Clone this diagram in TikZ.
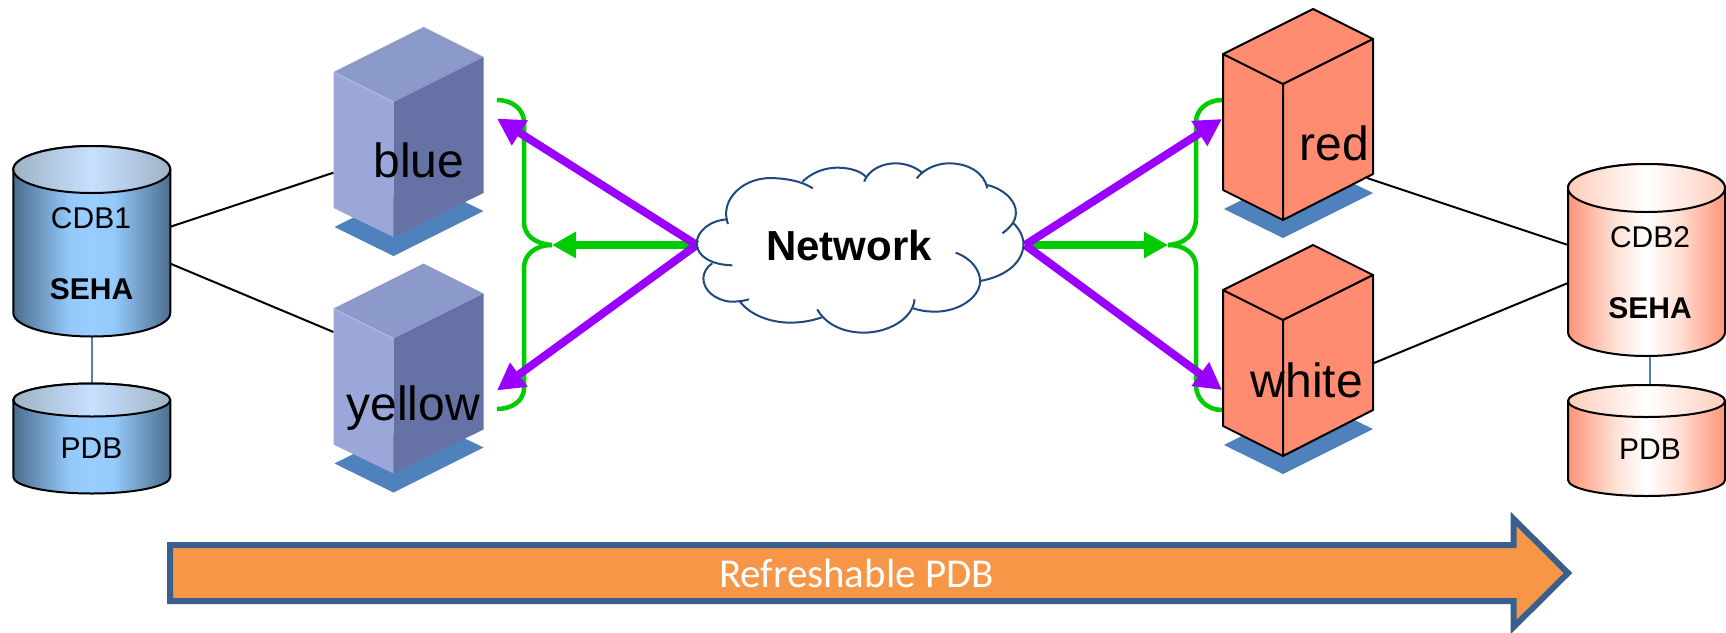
\documentclass[tikz,border=0pt]{standalone}
\usepackage{fontspec}
\setmainfont{Liberation Sans}
\newfontfamily\calib{Carlito}
\usetikzlibrary{arrows.meta}
\definecolor{boxL}{HTML}{9BA7D9}
\definecolor{boxT}{HTML}{8C99CB}
\definecolor{boxR}{HTML}{6672A6}
\definecolor{boxEdge}{HTML}{C5CCE8}
\definecolor{shadowB}{HTML}{4F81BD}
\definecolor{salmon}{HTML}{FF8C70}
\definecolor{gr}{HTML}{00CC00}
\definecolor{pu}{HTML}{9900FF}
\definecolor{cloudC}{HTML}{1F497D}
\definecolor{orangeF}{HTML}{F79646}
\definecolor{orangeS}{HTML}{3A5F8E}
\pgfdeclarehorizontalshading{bluebody}{100bp}{rgb(0bp)=(.30,.43,.56);rgb(25bp)=(.30,.43,.56);rgb(43bp)=(.58,.79,.98);rgb(50bp)=(.6,.8,1);rgb(57bp)=(.58,.79,.98);rgb(75bp)=(.30,.43,.56);rgb(100bp)=(.30,.43,.56)}
\pgfdeclarehorizontalshading{bluetop}{100bp}{rgb(0bp)=(.62,.70,.77);rgb(25bp)=(.62,.70,.77);rgb(50bp)=(.78,.88,1);rgb(75bp)=(.62,.70,.77);rgb(100bp)=(.62,.70,.77)}
\pgfdeclarehorizontalshading{redbody}{100bp}{rgb(0bp)=(1,.58,.47);rgb(25bp)=(1,.58,.47);rgb(40bp)=(1,.88,.84);rgb(50bp)=(1,1,1);rgb(60bp)=(1,.88,.84);rgb(75bp)=(1,.58,.47);rgb(100bp)=(1,.58,.47)}
\pgfdeclarehorizontalshading{redtop}{100bp}{rgb(0bp)=(1,.80,.73);rgb(25bp)=(1,.80,.73);rgb(50bp)=(1,1,1);rgb(75bp)=(1,.80,.73);rgb(100bp)=(1,.80,.73)}
\tikzset{
  lab/.style={anchor=base,inner sep=0pt,font=\fontsize{48}{48}\selectfont},
  dblab/.style={anchor=base,inner sep=0pt,font=\fontsize{30}{30}\selectfont},
  dbbold/.style={anchor=base,inner sep=0pt,font=\fontsize{30}{30}\selectfont\bfseries},
  blackline/.style={draw=black,line width=2pt},
  linkline/.style={draw=shadowB,line width=2pt},
  purplearrow/.style={draw=pu,line width=8pt,-{Triangle[length=27pt,width=28pt]}},
  greenarrow/.style={draw=gr,line width=8pt,-{Triangle[length=24pt,width=25pt]}},
  bracket/.style={draw=gr,line width=4.5pt},
  cloudline/.style={draw=cloudC,line width=2pt},
  dbline/.style={draw=black,line width=2pt,line join=round},
  srv/.style={draw=black,line width=2pt,line join=round,fill=salmon},
}
% x, ytop centre, ry, y side bottom, body shading, top shading
\newcommand\dbcyl[6]{%
  \path[shading=#5,dbline] (#1,#2) -- (#1,#4) arc[start angle=180,end angle=0,x radius=78.5,y radius=#3] -- ({#1+157},#2) arc[start angle=0,end angle=-180,x radius=78.5,y radius=#3] -- cycle;
  \path[shading=#6,dbline] (#1,#2) arc[start angle=180,end angle=0,x radius=78.5,y radius=#3] arc[start angle=0,end angle=-180,x radius=78.5,y radius=#3] -- cycle;
}
\newcommand\shadowpoly[2]{%
  \fill[shadowB] ({#1+1},{#2+200}) -- ({#1+60},{#2+229}) -- ({#1+150},{#2+184}) -- ({#1+90},{#2+155}) -- cycle;
}
\newcommand\bluesrv[2]{%
  \shadowpoly{#1}{#2}
  \fill[boxL] (#1,{#2+45}) -- ({#1+60},{#2+75}) -- ({#1+60},{#2+210}) -- (#1,{#2+181}) -- cycle;
  \fill[boxT] (#1,{#2+45}) -- ({#1+90},#2) -- ({#1+150},{#2+30}) -- ({#1+60},{#2+75}) -- cycle;
  \fill[boxR] ({#1+60},{#2+75}) -- ({#1+150},{#2+30}) -- ({#1+150},{#2+166}) -- ({#1+60},{#2+210}) -- cycle;
  \draw[boxEdge,line width=.6pt] (#1,{#2+45}) -- ({#1+60},{#2+75});
}
\newcommand\redsrv[2]{%
  \shadowpoly{#1}{#2}
  \path[srv] (#1,{#2+45}) -- ({#1+60},{#2+75}) -- ({#1+60},{#2+211}) -- (#1,{#2+181}) -- cycle;
  \path[srv] (#1,{#2+45}) -- ({#1+90},#2) -- ({#1+150},{#2+30}) -- ({#1+60},{#2+75}) -- cycle;
  \path[srv] ({#1+60},{#2+75}) -- ({#1+150},{#2+30}) -- ({#1+150},{#2+165}) -- ({#1+60},{#2+211}) -- cycle;
}
\begin{document}
\begin{tikzpicture}[x=1pt,y=-1pt]
\useasboundingbox (0,0) rectangle (1726,632);
\fill[white] (0,0) rectangle (1726,632);
\clip (0,0) rectangle (1726,632);

% named ports
\coordinate (cdbAa) at (170.5,226.7);
\coordinate (cdbAb) at (170.5,263.7);
\coordinate (blueP) at (333.5,172.7);
\coordinate (yellowP) at (333.5,332);
\coordinate (cdbAd) at (91.7,336);
\coordinate (pdbAu) at (91.7,383);
\coordinate (redP) at (1367,178);
\coordinate (whiteP) at (1374,363);
\coordinate (cdbBa) at (1568,245);
\coordinate (cdbBb) at (1568,283);
\coordinate (cdbBd) at (1650,354);
\coordinate (pdbBu) at (1650,386);
\coordinate (netL) at (696.7,245);
\coordinate (netR) at (1025,245);
\coordinate (blueT) at (497,118.5);
\coordinate (yellowT) at (497,390.5);
\coordinate (hubL) at (552,245);
\coordinate (redT) at (1222,119);
\coordinate (whiteT) at (1222,390);
\coordinate (hubR) at (1168,245);
\coordinate (brLa) at (497,100);
\coordinate (brLb) at (497,409);
\coordinate (brRa) at (1222,100);
\coordinate (brRb) at (1222,410);
\coordinate (brLm) at (552,245);

% black links
\draw[blackline] (cdbAa) -- (blueP);
\draw[blackline] (cdbAb) -- (yellowP);
\draw[blackline] (redP) -- (cdbBa);
\draw[blackline] (whiteP) -- (cdbBb);
\draw[linkline] (cdbAd) -- (pdbAu);
\draw[linkline] (cdbBd) -- (pdbBu);

% databases
\dbcyl{13.3}{169.5}{23.5}{313}{bluebody}{bluetop}
\dbcyl{13.3}{400}{16.5}{477}{bluebody}{bluetop}
\dbcyl{1568}{188}{24}{332}{redbody}{redtop}
\dbcyl{1568}{401}{16}{480}{redbody}{redtop}
\node[dblab] (cdbA) at (91,228) {CDB1};
\node[dbbold] (sehaA) at (91.5,299) {SEHA};
\node[dblab] (pdbA) at (91.5,458) {PDB};
\node[dblab] (cdbB) at (1650,247) {CDB2};
\node[dbbold] (sehaB) at (1650,318) {SEHA};
\node[dblab] (pdbB) at (1650,459) {PDB};

% servers
\bluesrv{333.5}{27}
\bluesrv{333.5}{263.5}
\redsrv{1223}{9}
\redsrv{1223}{245}
\node[lab] (blue) at (419,177) {blue};
\node[lab] (yellow) at (413,420) {yellow};
\node[lab] (red) at (1334,160) {red};
\node[lab] (white) at (1307,397) {white};

% green brackets
\draw[bracket] (brLa) .. controls (513,100) and (524,110) .. (524,122) -- (524,222) .. controls (524,236) and (536,244) .. (brLm);
\draw[bracket] (brLm) .. controls (536,245) and (524,254) .. (524,268) -- (524,388) .. controls (524,400) and (513,409) .. (brLb);
\draw[bracket] (brRa) .. controls (1207,100) and (1196,110) .. (1196,122) -- (1196,218) .. controls (1196,234) and (1185,244) .. (hubR);
\draw[bracket] (hubR) .. controls (1185,245) and (1196,254) .. (1196,267) -- (1196,385) .. controls (1196,399) and (1207,410) .. (brRb);

% arrows
\draw[greenarrow] (netL) -- (hubL);
\draw[greenarrow] (netR) -- (hubR);
\draw[purplearrow] (netL) -- (blueT);
\draw[purplearrow] (netL) -- (yellowT);
\draw[purplearrow] (netR) -- (redT);
\draw[purplearrow] (netR) -- (whiteT);

% cloud
\begin{scope}[shift={(440,60)},x=0.4464pt,y=-0.3333pt]
\draw[cloudline] (645,492) .. controls (625,420) and (680,345) .. (755,355) .. controls (790,358) and (815,368) .. (835,385);
\draw[cloudline] (812,365) .. controls (835,335) and (865,323) .. (890,323) .. controls (920,323) and (945,335) .. (955,352);
\draw[cloudline] (950,365) .. controls (960,330) and (990,310) .. (1020,310) .. controls (1045,310) and (1065,322) .. (1080,338);
\draw[cloudline] (1068,355) .. controls (1085,325) and (1115,310) .. (1140,310) .. controls (1185,310) and (1220,340) .. (1226,385);
\draw[cloudline] (1226,375) .. controls (1265,388) and (1292,425) .. (1290,460) .. controls (1290,485) and (1275,505) .. (1260,520);
\draw[cloudline] (1285,490) .. controls (1300,510) and (1308,535) .. (1307,555) .. controls (1305,610) and (1265,650) .. (1210,663);
\draw[cloudline] (1155,578) .. controls (1190,595) and (1210,630) .. (1210,665) .. controls (1208,715) and (1160,755) .. (1110,755) .. controls (1090,755) and (1075,752) .. (1060,745);
\draw[cloudline] (1063,718) .. controls (1060,775) and (1005,818) .. (950,818) .. controls (905,818) and (865,795) .. (845,748);
\draw[cloudline] (855,772) .. controls (835,782) and (810,788) .. (785,788) .. controls (740,788) and (695,765) .. (672,725);
\draw[cloudline] (692,718) .. controls (675,725) and (660,725) .. (650,725) .. controls (615,720) and (590,690) .. (590,655) .. controls (590,640) and (597,620) .. (610,610);
\draw[cloudline] (655,616) .. controls (610,615) and (575,590) .. (575,550) .. controls (575,515) and (605,480) .. (645,478);
\end{scope}
\node[anchor=base,inner sep=0pt,font=\fontsize{42}{42}\selectfont\bfseries] (net) at (849,260.5) {Network};

% big arrow
\path[draw=orangeS,fill=orangeF,line width=6pt,miter limit=10] (170,545) -- (1513.6,545) -- (1513.6,519) -- (1568,573) -- (1513.6,627) -- (1513.6,601) -- (170,601) -- cycle;
\node[anchor=base,inner sep=0pt,text=white,font=\calib\fontsize{41}{41}\selectfont] (refresh) at (856.5,587) {Refreshable PDB};
\end{tikzpicture}
\end{document}
